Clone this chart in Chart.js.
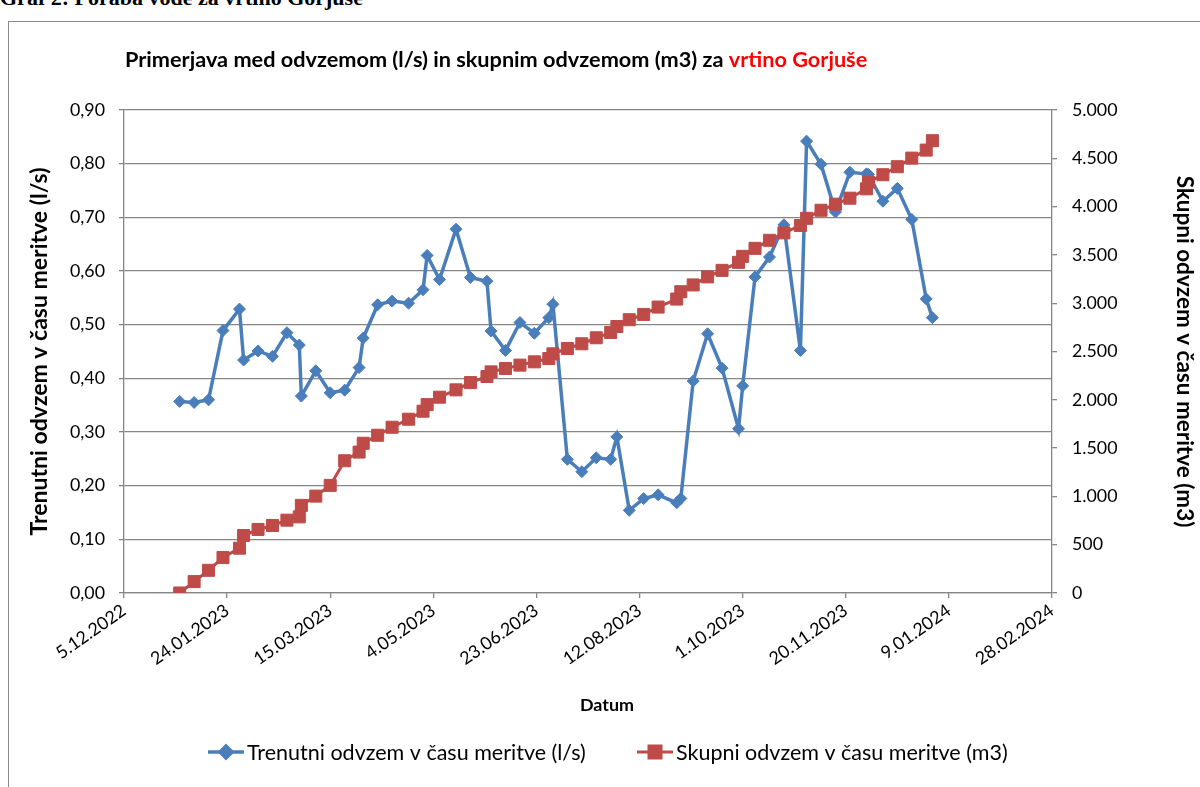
<!DOCTYPE html>
<html>
<head>
<meta charset="utf-8">
<script src="https://cdn.jsdelivr.net/npm/chart.js@4.4.1/dist/chart.umd.min.js"></script>
<style>
  html, body { margin: 0; padding: 0; background: #fff; overflow: hidden; }
  #page { position: relative; width: 1200px; height: 787px; overflow: hidden; }
  #head { position: absolute; left: 0; top: -13px; font: bold 22px "Liberation Serif", "Times New Roman", serif; line-height: 22px; white-space: nowrap; }
  #box { position: absolute; left: 8px; top: 21px; width: 1300px; height: 900px; border: 1px solid #8c8c8c; }
  canvas { position: absolute; left: 0; top: 0; }
</style>
</head>
<body>
<div id="page">
  <div id="head">Graf 2: Poraba vode za vrtino Gorjuše</div>
  <div id="box"></div>
  <canvas id="chart" width="1200" height="787"></canvas>
</div>
<script>
// measurement dates (d.m.yyyy)
const dates = [
  "1.1.2023", "8.1.2023", "15.1.2023", "22.1.2023", "30.1.2023", "1.2.2023",
  "8.2.2023", "15.2.2023", "22.2.2023", "28.2.2023", "1.3.2023", "8.3.2023",
  "15.3.2023", "22.3.2023", "29.3.2023", "31.3.2023", "7.4.2023", "14.4.2023",
  "22.4.2023", "29.4.2023", "1.5.2023", "7.5.2023", "15.5.2023", "22.5.2023",
  "30.5.2023", "1.6.2023", "8.6.2023", "15.6.2023", "22.6.2023", "29.6.2023",
  "1.7.2023", "8.7.2023", "15.7.2023", "22.7.2023", "29.7.2023", "1.8.2023",
  "7.8.2023", "14.8.2023", "21.8.2023", "30.8.2023", "1.9.2023", "7.9.2023",
  "14.9.2023", "21.9.2023", "29.9.2023", "1.10.2023", "7.10.2023", "14.10.2023",
  "21.10.2023", "29.10.2023", "1.11.2023", "8.11.2023", "15.11.2023", "22.11.2023",
  "30.11.2023", "1.12.2023", "8.12.2023", "15.12.2023", "22.12.2023", "29.12.2023",
  "1.1.2024"
];
// instantaneous withdrawal (l/s)
const trenutni = [
  0.357, 0.355, 0.360, 0.489, 0.529, 0.434,
  0.451, 0.441, 0.485, 0.462, 0.367, 0.414,
  0.373, 0.378, 0.420, 0.475, 0.537, 0.544,
  0.540, 0.565, 0.629, 0.584, 0.678, 0.588,
  0.581, 0.488, 0.452, 0.504, 0.484, 0.513,
  0.538, 0.249, 0.226, 0.252, 0.249, 0.291,
  0.154, 0.176, 0.183, 0.168, 0.176, 0.395,
  0.483, 0.419, 0.306, 0.386, 0.589, 0.626,
  0.686, 0.452, 0.842, 0.799, 0.710, 0.784,
  0.781, 0.780, 0.730, 0.754, 0.696, 0.548,
  0.513
];
// total withdrawal (m3)
const skupni = [
  0, 118, 235, 367, 464, 595,
  658, 699, 754, 788, 907, 1003,
  1114, 1369, 1459, 1550, 1633, 1716,
  1799, 1882, 1950, 2027, 2103, 2178,
  2241, 2289, 2324, 2359, 2393, 2427,
  2476, 2531, 2580, 2642, 2697, 2759,
  2829, 2884, 2960, 3043, 3119, 3189,
  3272, 3340, 3423, 3485, 3568, 3651,
  3728, 3804, 3879, 3962, 4025, 4087,
  4184, 4253, 4330, 4413, 4502, 4585,
  4682
];
const xTickLabels = [
  "5.12.2022", "24.01.2023", "15.03.2023", "4.05.2023", "23.06.2023",
  "12.08.2023", "1.10.2023", "20.11.2023", "9.01.2024", "28.02.2024"
];
const seriesNames = ["Trenutni odvzem v času meritve (l/s)", "Skupni odvzem v času meritve (m3)"];
const yTitle = "Trenutni odvzem v času meritve (l/s)";
const y1Title = "Skupni odvzem v času meritve (m3)";

const BLUE = "#4a7ebb";
const RED = "#be4b48";
const GRID = "#868686";
const FONT = "Lato, 'Open Sans', sans-serif";

const EPOCH = Date.UTC(2022, 11, 5);
function dayOf(s) {
  const [d, m, y] = s.split(".").map(Number);
  return (Date.UTC(y, m - 1, d) - EPOCH) / 864e5;
}
const days = dates.map(dayOf);

function thousands(v) {
  return String(v).replace(/\B(?=(\d{3})+(?!\d))/g, ".");
}

// font size that makes a text as wide as it is in the original (Calibri) picture
const mctx = document.createElement("canvas").getContext("2d");
function fitSize(text, weight, target) {
  mctx.font = weight + " 100px " + FONT;
  return +(100 * target / mctx.measureText(text).width).toFixed(1);
}
const TITLE_SIZE = fitSize("Primerjava med odvzemom (l/s) in skupnim odvzemom (m3) za vrtino Gorjuše", "bold", 741);
const LEGEND_SIZE = fitSize(seriesNames[0], "normal", 339);
const YT_SIZE = fitSize(yTitle, "bold", 368);
const Y1T_SIZE = fitSize(y1Title, "bold", 352);
const TICK_SIZE = fitSize("0,90", "normal", 35);
const DATUM_SIZE = fitSize("Datum", "bold", 54);

// title, "Datum" and the legend drawn straight onto the canvas
const decorations = {
  id: "decorations",
  afterDraw(chart) {
    const ctx = chart.ctx;
    ctx.save();
    ctx.textBaseline = "middle";
    ctx.textAlign = "left";

    ctx.font = "bold " + TITLE_SIZE + "px " + FONT;
    const t1 = "Primerjava med odvzemom (l/s) in skupnim odvzemom (m3) za ";
    const t2 = "vrtino Gorjuše";
    const w1 = ctx.measureText(t1).width;
    ctx.fillStyle = "#000";
    ctx.fillText(t1, 125, 60);
    ctx.fillStyle = "#ff0000";
    ctx.fillText(t2, 125 + w1, 60);

    ctx.font = "bold " + DATUM_SIZE + "px " + FONT;
    ctx.fillStyle = "#000";
    ctx.textAlign = "center";
    ctx.fillText("Datum", 607, 705);

    // legend
    ctx.textAlign = "left";
    ctx.font = LEGEND_SIZE + "px " + FONT;
    const ly = 752;
    const items = [
      { x: 208, color: BLUE, style: "rectRot", r: 6, lw: 3.5, text: seriesNames[0] },
      { x: 637, color: RED, style: "rect", r: 8.5, lw: 3, text: seriesNames[1] }
    ];
    items.forEach((it) => {
      ctx.strokeStyle = it.color;
      ctx.lineWidth = it.lw;
      ctx.beginPath();
      ctx.moveTo(it.x, ly);
      ctx.lineTo(it.x + 36, ly);
      ctx.stroke();
      ctx.fillStyle = it.color;
      Chart.helpers.drawPoint(ctx, { pointStyle: it.style, radius: it.r, borderWidth: 1 }, it.x + 18, ly);
      ctx.fill();
      ctx.fillStyle = "#000";
      ctx.fillText(it.text, it.x + 39, ly + 1);
    });
    ctx.restore();
  }
};

const ytLine = YT_SIZE * 1.2;
const y1tLine = Y1T_SIZE * 1.2;
const padLeft = Math.round(40 - ytLine / 2 - 2);
const padRight = Math.max(0, Math.round(1200 - 1185 - y1tLine / 2));

new Chart(document.getElementById("chart"), {
  type: "line",
  data: {
    datasets: [
      {
        label: seriesNames[0],
        data: days.map((d, i) => ({ x: d, y: trenutni[i] })),
        yAxisID: "y",
        borderColor: BLUE,
        backgroundColor: BLUE,
        borderWidth: 3.5,
        pointStyle: "rectRot",
        pointRadius: 6,
        pointBorderWidth: 1,
        tension: 0,
        order: 1
      },
      {
        label: seriesNames[1],
        data: days.map((d, i) => ({ x: d, y: skupni[i] })),
        yAxisID: "y1",
        borderColor: RED,
        backgroundColor: RED,
        borderWidth: 3,
        pointStyle: "rect",
        pointRadius: 8.5,
        pointBorderWidth: 1,
        tension: 0,
        order: 0
      }
    ]
  },
  options: {
    responsive: false,
    animation: false,
    devicePixelRatio: 1,
    layout: { padding: { left: padLeft, right: padRight, top: 110, bottom: 70 } },
    plugins: {
      legend: { display: false },
      title: { display: false },
      tooltip: { enabled: false }
    },
    scales: {
      x: {
        type: "linear",
        min: 0,
        max: 450,
        afterFit: (s) => { s.height = 124; },
        ticks: {
          stepSize: 50,
          minRotation: 35,
          maxRotation: 35,
          padding: 2,
          color: "#000",
          font: { family: FONT, size: TICK_SIZE },
          callback: (v) => xTickLabels[Math.round(v / 50)] ?? ""
        },
        grid: { drawOnChartArea: false, drawTicks: true, tickLength: 5, color: GRID, lineWidth: 1.3 },
        border: { color: GRID, width: 1.3 }
      },
      y: {
        position: "left",
        min: 0,
        max: 0.9,
        afterFit: (s) => { s.width = 124 - padLeft; },
        ticks: {
          stepSize: 0.1,
          padding: 14,
          color: "#000",
          font: { family: FONT, size: TICK_SIZE },
          callback: (v) => v.toFixed(2).replace(".", ",")
        },
        grid: { color: GRID, lineWidth: 1.3, tickLength: 5 },
        border: { color: GRID, width: 1.3 },
        title: {
          display: true,
          text: yTitle,
          color: "#000",
          padding: { top: 2, bottom: 2 },
          font: { family: FONT, size: YT_SIZE, weight: "bold" }
        }
      },
      y1: {
        position: "right",
        min: 0,
        max: 5000,
        afterFit: (s) => { s.width = 1200 - padRight - 1052; },
        ticks: {
          stepSize: 500,
          padding: 15,
          color: "#000",
          font: { family: FONT, size: TICK_SIZE },
          callback: (v) => thousands(v)
        },
        grid: { drawOnChartArea: false, color: GRID, lineWidth: 1.3, tickLength: 5 },
        border: { color: GRID, width: 1.3 },
        title: {
          display: true,
          text: y1Title,
          color: "#000",
          padding: { top: 0, bottom: 0 },
          font: { family: FONT, size: Y1T_SIZE, weight: "bold" }
        }
      }
    }
  },
  plugins: [decorations]
});
</script>
</body>
</html>
